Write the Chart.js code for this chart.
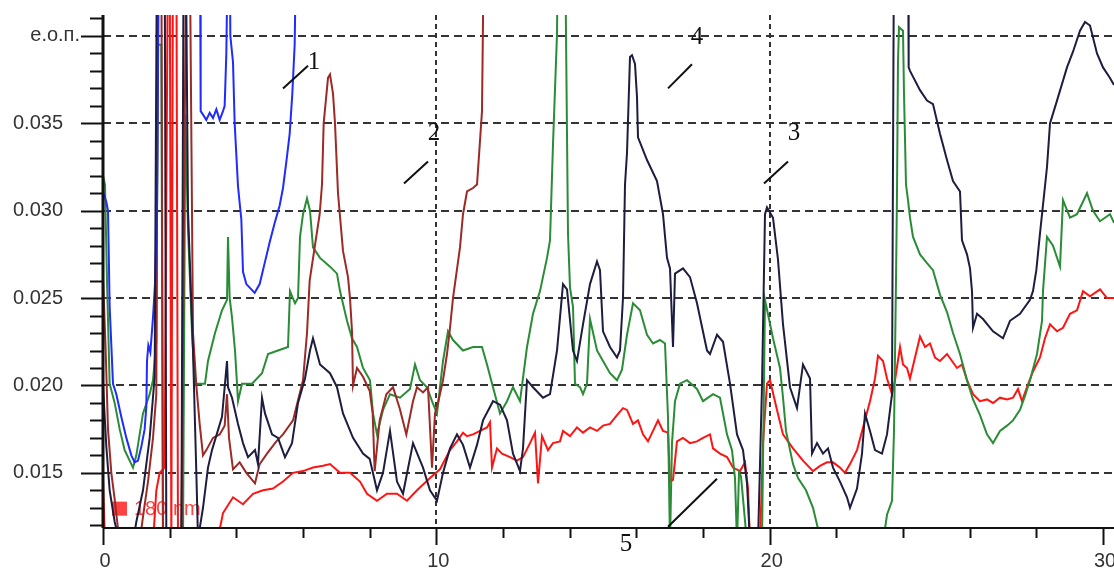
<!DOCTYPE html>
<html>
<head>
<meta charset="utf-8">
<script src="https://cdn.jsdelivr.net/npm/chart.js@4"></script>
<style>
  html, body { margin: 0; padding: 0; background: #fff; }
  canvas { display: block; }
</style>
</head>
<body>
<canvas id="c" width="1114" height="569"></canvas>
<script>
// Spectra: x in arbitrary units (0..30), y in e.o.п.
// Values above the frame are stored as 0.046, below it as 0.0110.
const HIGH = 0.046, LOW = 0.0110;

const navyPts = [[0,0.0200],[0.1,0.0165],[0.2,0.0140],[0.35,0.0122],[0.5,0.0110],[0.9,0.0110],[1.0,0.0122],[1.2,0.0140],[1.4,0.0170],[1.55,0.0205],[1.62,HIGH],[1.85,HIGH],[1.9,LOW],[2.35,LOW],[2.42,HIGH],[2.48,HIGH],[2.55,0.0300],[2.7,0.0220],[2.8,0.0150],[2.85,0.0112],[3.0,0.0130],[3.15,0.0153],[3.27,0.0163],[3.57,0.0182],[3.72,0.0214],[3.75,0.0199],[3.87,0.0193],[4.05,0.0178],[4.2,0.0167],[4.35,0.0159],[4.56,0.0163],[4.65,0.0155],[4.77,0.0193],[4.86,0.0184],[5.07,0.0172],[5.25,0.0170],[5.46,0.0159],[5.67,0.0167],[5.85,0.0190],[6.06,0.0204],[6.21,0.0220],[6.3,0.0227],[6.51,0.0212],[6.81,0.0207],[7.02,0.0199],[7.2,0.0184],[7.5,0.0170],[7.8,0.0161],[8.0,0.0158],[8.22,0.0140],[8.4,0.0150],[8.61,0.0174],[8.82,0.0145],[9.0,0.0138],[9.3,0.0167],[9.6,0.0153],[9.81,0.0140],[10.02,0.0134],[10.2,0.0150],[10.41,0.0164],[10.62,0.0172],[10.8,0.0166],[11.01,0.0153],[11.22,0.0166],[11.4,0.0180],[11.7,0.0191],[11.91,0.0189],[12.12,0.0180],[12.3,0.0161],[12.51,0.0151],[12.6,0.0164],[12.72,0.0203],[12.9,0.0199],[13.2,0.0193],[13.41,0.0195],[13.62,0.0220],[13.8,0.0258],[13.92,0.0255],[14.1,0.0220],[14.22,0.0214],[14.4,0.0235],[14.61,0.0258],[14.82,0.0271],[14.91,0.0266],[15.0,0.0231],[15.21,0.0222],[15.42,0.0216],[15.51,0.0220],[15.6,0.0250],[15.66,0.0315],[15.72,0.0333],[15.81,0.0388],[15.87,0.0389],[15.96,0.0384],[16.02,0.0365],[16.05,0.0342],[16.32,0.0329],[16.62,0.0317],[16.8,0.0298],[16.92,0.0273],[17.01,0.0267],[17.1,0.0222],[17.16,0.0264],[17.4,0.0267],[17.61,0.0262],[17.82,0.0247],[18.12,0.0220],[18.21,0.0218],[18.42,0.0229],[18.6,0.0225],[18.81,0.0201],[19.02,0.0172],[19.2,0.0163],[19.32,0.0144],[19.41,LOW],[19.65,LOW],[19.77,0.0200],[19.86,0.0298],[19.92,0.0302],[20.1,0.0296],[20.25,0.0272],[20.4,0.0235],[20.61,0.0199],[20.82,0.0187],[21.0,0.0212],[21.21,0.0204],[21.27,0.0161],[21.42,0.0167],[21.6,0.0161],[21.75,0.0164],[21.9,0.0153],[22.11,0.0145],[22.32,0.0136],[22.41,0.0130],[22.62,0.0141],[22.77,0.0161],[22.86,0.0184],[23.01,0.0174],[23.16,0.0163],[23.37,0.0161],[23.52,0.0172],[23.67,0.0195],[23.73,HIGH],[24.15,HIGH],[24.17,0.0382],[24.21,0.0380],[24.51,0.0369],[24.72,0.0363],[24.9,0.0361],[25.11,0.0344],[25.32,0.0329],[25.5,0.0317],[25.71,0.0311],[25.77,0.0283],[25.92,0.0275],[26.01,0.0267],[26.07,0.0254],[26.1,0.0233],[26.22,0.0241],[26.4,0.0238],[26.7,0.0231],[27.0,0.0227],[27.21,0.0237],[27.51,0.0241],[27.81,0.0249],[27.9,0.0254],[28.0,0.0266],[28.11,0.0287],[28.32,0.0325],[28.41,0.0350],[28.62,0.0363],[28.92,0.0382],[29.1,0.0391],[29.31,0.0403],[29.46,0.0408],[29.61,0.0406],[29.82,0.0390],[30.0,0.0382],[30.21,0.0376],[30.33,0.0372]];

const bluePts = [[0,0.0311],[0.1,0.0305],[0.15,0.0300],[0.2,0.0245],[0.3,0.0201],[0.4,0.0195],[0.55,0.0182],[0.7,0.0170],[0.85,0.0160],[0.95,0.0156],[1.05,0.0157],[1.15,0.0165],[1.25,0.0175],[1.3,0.0188],[1.32,0.0214],[1.36,0.0223],[1.42,0.0219],[1.5,0.0239],[1.56,0.0258],[1.62,0.0300],[1.68,HIGH],[2.91,HIGH],[2.93,0.0357],[3.0,0.0355],[3.1,0.0352],[3.2,0.0356],[3.3,0.0353],[3.4,0.0358],[3.5,0.0352],[3.6,0.0357],[3.65,0.0360],[3.7,0.0390],[3.75,HIGH],[3.8,HIGH],[3.82,0.0400],[3.9,0.0385],[3.95,0.0350],[4.05,0.0314],[4.15,0.0295],[4.2,0.0265],[4.3,0.0258],[4.45,0.0255],[4.55,0.0253],[4.7,0.0258],[4.85,0.0270],[5.0,0.0282],[5.15,0.0293],[5.3,0.0303],[5.4,0.0313],[5.5,0.0328],[5.6,0.0344],[5.68,0.0367],[5.75,0.0395],[5.8,HIGH]];

const brownPts = [[0,0.0262],[0.08,0.0220],[0.15,0.0175],[0.25,0.0150],[0.35,0.0135],[0.45,0.0118],[0.6,LOW],[1.1,LOW],[1.2,0.0125],[1.35,0.0145],[1.5,0.0170],[1.6,0.0195],[1.65,HIGH],[1.75,HIGH],[1.8,LOW],[2.35,LOW],[2.5,HIGH],[2.6,HIGH],[2.7,0.0230],[2.8,0.0200],[2.9,0.0178],[3.0,0.0160],[3.1,0.0163],[3.3,0.0170],[3.5,0.0172],[3.65,0.0177],[3.72,0.0195],[3.78,0.0170],[3.9,0.0152],[4.1,0.0156],[4.3,0.0150],[4.56,0.0144],[4.7,0.0155],[4.92,0.0161],[5.2,0.0168],[5.4,0.0172],[5.7,0.0180],[6.0,0.0203],[6.12,0.0230],[6.2,0.0260],[6.5,0.0298],[6.57,0.0315],[6.62,0.0350],[6.75,0.0376],[6.81,0.0378],[6.9,0.0367],[6.96,0.0350],[7.05,0.0310],[7.2,0.0277],[7.35,0.0262],[7.41,0.0250],[7.47,0.0231],[7.5,0.0200],[7.62,0.0210],[7.8,0.0205],[8.0,0.0197],[8.09,0.0184],[8.15,0.0151],[8.3,0.0180],[8.5,0.0195],[8.7,0.0199],[8.9,0.0187],[9.1,0.0172],[9.3,0.0191],[9.42,0.0199],[9.6,0.0196],[9.75,0.0199],[9.87,0.0153],[9.96,0.0184],[10.05,0.0190],[10.2,0.0203],[10.32,0.0218],[10.41,0.0233],[10.5,0.0250],[10.71,0.0279],[10.8,0.0298],[10.92,0.0311],[11.1,0.0313],[11.22,0.0315],[11.31,0.0340],[11.37,0.0357],[11.43,HIGH]];

const greenPts = [[0,0.0320],[0.06,0.0315],[0.12,0.0260],[0.2,0.0201],[0.35,0.0190],[0.5,0.0175],[0.65,0.0163],[0.8,0.0157],[0.9,0.0153],[1.0,0.0160],[1.2,0.0184],[1.4,0.0195],[1.5,0.0203],[1.6,0.0225],[1.65,0.0395],[1.75,0.0395],[1.8,LOW],[2.4,LOW],[2.47,0.0355],[2.55,0.0290],[2.67,0.0230],[2.76,0.0201],[3.06,0.0201],[3.15,0.0214],[3.36,0.0230],[3.57,0.0243],[3.72,0.0249],[3.75,0.0285],[3.8,0.0250],[3.87,0.0239],[3.96,0.0220],[4.02,0.0201],[4.05,0.0191],[4.17,0.0201],[4.47,0.0201],[4.77,0.0207],[4.95,0.0218],[5.25,0.0220],[5.55,0.0222],[5.61,0.0254],[5.76,0.0247],[5.85,0.0250],[5.91,0.0285],[6.0,0.0298],[6.12,0.0307],[6.21,0.0300],[6.3,0.0279],[6.51,0.0273],[6.81,0.0268],[7.02,0.0264],[7.11,0.0254],[7.32,0.0237],[7.47,0.0227],[7.62,0.0222],[7.8,0.0210],[8.01,0.0203],[8.1,0.0184],[8.22,0.0172],[8.4,0.0186],[8.61,0.0195],[8.91,0.0193],[9.21,0.0198],[9.36,0.0212],[9.51,0.0203],[9.72,0.0199],[9.87,0.0191],[10.02,0.0184],[10.11,0.0199],[10.2,0.0214],[10.35,0.0231],[10.5,0.0226],[10.8,0.0220],[11.1,0.0222],[11.37,0.0222],[11.52,0.0212],[11.7,0.0199],[11.91,0.0184],[12.12,0.0191],[12.3,0.0199],[12.51,0.0191],[12.72,0.0222],[12.9,0.0241],[13.11,0.0254],[13.32,0.0273],[13.41,0.0283],[13.5,0.0338],[13.62,0.0401],[13.65,HIGH],[13.86,HIGH],[13.92,0.0344],[13.95,0.0287],[14.01,0.0256],[14.1,0.0245],[14.16,0.0201],[14.31,0.0199],[14.4,0.0195],[14.52,0.0201],[14.61,0.0238],[14.82,0.0220],[15.0,0.0214],[15.21,0.0207],[15.42,0.0203],[15.57,0.0209],[15.72,0.0229],[15.9,0.0247],[16.11,0.0243],[16.32,0.0229],[16.5,0.0224],[16.71,0.0226],[16.86,0.0224],[16.95,0.0182],[17.01,LOW],[17.07,0.0167],[17.16,0.0191],[17.31,0.0201],[17.52,0.0203],[17.82,0.0198],[18.0,0.0191],[18.3,0.0195],[18.51,0.0193],[18.72,0.0172],[18.87,0.0163],[18.96,0.0147],[19.02,LOW],[19.08,0.0150],[19.14,0.0148],[19.32,LOW],[19.77,LOW],[19.86,0.0249],[20.1,0.0227],[20.31,0.0210],[20.4,0.0193],[20.49,0.0174],[20.7,0.0155],[20.85,0.0147],[21.09,0.0140],[21.3,0.0130],[21.45,0.0118],[21.6,LOW],[23.4,LOW],[23.52,0.0126],[23.67,0.0134],[23.73,0.0174],[23.79,0.0260],[23.82,0.0310],[23.85,0.0386],[23.88,0.0405],[24.0,0.0403],[24.03,0.0367],[24.09,0.0315],[24.15,0.0306],[24.21,0.0296],[24.3,0.0285],[24.51,0.0275],[24.72,0.0270],[24.9,0.0266],[25.11,0.0252],[25.32,0.0242],[25.5,0.0230],[25.71,0.0218],[25.92,0.0203],[26.1,0.0192],[26.31,0.0183],[26.52,0.0172],[26.7,0.0167],[26.91,0.0174],[27.12,0.0177],[27.3,0.0180],[27.51,0.0186],[27.66,0.0194],[27.81,0.0203],[28.02,0.0218],[28.17,0.0237],[28.2,0.0254],[28.32,0.0285],[28.5,0.0280],[28.71,0.0268],[28.8,0.0306],[29.01,0.0296],[29.22,0.0298],[29.52,0.0310],[29.7,0.0300],[29.91,0.0294],[30.21,0.0298],[30.33,0.0293]];

const redPts = [[0,0.0146],[0.06,LOW],[1.5,LOW],[1.6,0.0140],[1.7,0.0150],[1.85,0.0153],[1.95,HIGH],[2.0,HIGH],[2.05,LOW],[2.1,HIGH],[2.2,HIGH],[2.25,LOW],[3.42,LOW],[3.6,0.0127],[3.9,0.0136],[4.2,0.0132],[4.5,0.0138],[4.8,0.0140],[5.1,0.0141],[5.4,0.0145],[5.7,0.0150],[6.0,0.0151],[6.3,0.0153],[6.6,0.0154],[6.81,0.0155],[7.11,0.0150],[7.41,0.0150],[7.71,0.0145],[7.92,0.0138],[8.22,0.0134],[8.52,0.0138],[8.82,0.0138],[9.12,0.0134],[9.42,0.0140],[9.81,0.0147],[10.11,0.0152],[10.41,0.0163],[10.62,0.0168],[10.8,0.0173],[10.92,0.0171],[11.1,0.0172],[11.31,0.0174],[11.52,0.0176],[11.61,0.0179],[11.67,0.0153],[11.82,0.0164],[11.97,0.0161],[12.21,0.0159],[12.42,0.0157],[12.6,0.0159],[12.81,0.0167],[12.96,0.0173],[13.05,0.0144],[13.17,0.0171],[13.35,0.0163],[13.5,0.0167],[13.71,0.0168],[13.8,0.0174],[14.01,0.0171],[14.22,0.0176],[14.4,0.0173],[14.61,0.0176],[14.82,0.0174],[15.0,0.0177],[15.21,0.0178],[15.42,0.0183],[15.6,0.0187],[15.72,0.0186],[15.9,0.0178],[16.05,0.0180],[16.2,0.0172],[16.35,0.0168],[16.5,0.0174],[16.65,0.0180],[16.8,0.0174],[16.95,0.0173],[17.01,0.0145],[17.1,0.0146],[17.22,0.0168],[17.4,0.0170],[17.61,0.0167],[17.82,0.0168],[18.0,0.0170],[18.21,0.0172],[18.3,0.0164],[18.51,0.0161],[18.72,0.0159],[18.9,0.0153],[19.11,0.0151],[19.26,0.0156],[19.35,0.0141],[19.41,LOW],[19.71,LOW],[19.8,0.0167],[19.92,0.0201],[20.01,0.0203],[20.22,0.0186],[20.4,0.0172],[20.7,0.0164],[21.0,0.0157],[21.3,0.0151],[21.51,0.0154],[21.72,0.0156],[21.9,0.0156],[22.11,0.0153],[22.26,0.0150],[22.41,0.0155],[22.62,0.0163],[22.8,0.0176],[23.01,0.0191],[23.16,0.0204],[23.25,0.0217],[23.4,0.0214],[23.52,0.0204],[23.67,0.0195],[23.76,0.0203],[23.91,0.0222],[24.0,0.0212],[24.12,0.0210],[24.21,0.0204],[24.36,0.0216],[24.51,0.0228],[24.66,0.0222],[24.81,0.0224],[24.96,0.0216],[25.11,0.0214],[25.32,0.0218],[25.47,0.0214],[25.62,0.0210],[25.77,0.0212],[25.92,0.0203],[26.1,0.0195],[26.31,0.0191],[26.52,0.0192],[26.7,0.0190],[26.91,0.0193],[27.12,0.0192],[27.3,0.0193],[27.45,0.0198],[27.57,0.0191],[27.72,0.0199],[27.9,0.0208],[28.11,0.0216],[28.26,0.0227],[28.41,0.0235],[28.62,0.0231],[28.8,0.0233],[29.01,0.0241],[29.22,0.0243],[29.4,0.0254],[29.61,0.0251],[29.91,0.0255],[30.12,0.0250],[30.33,0.0250]];

// axis ranges and labels
const X_MIN = 0, X_MAX = 30.33;
const Y_MIN = 0.0119, Y_MAX = 0.0412;
const xTickLabels = [0, 10, 20, 30];
const yTickLabels = [[0.015, '0.015'], [0.020, '0.020'], [0.025, '0.025'], [0.030, '0.030'], [0.035, '0.035'], [0.040, 'e.o.п.']];

// curve numbers with short leader strokes, in data units
const curveTags = [
  { text: '1', x: 6.33, y: 0.0385, from: [5.40, 0.0370], to: [6.15, 0.0383] },
  { text: '2', x: 9.93, y: 0.0344, from: [9.03, 0.03156], to: [9.75, 0.03282] },
  { text: '3', x: 20.73, y: 0.0344, from: [19.83, 0.03156], to: [20.55, 0.03282] },
  { text: '4', x: 17.82, y: 0.0399, from: [16.95, 0.0370], to: [17.67, 0.03838] },
  { text: '5', x: 15.69, y: 0.01093, from: [16.95, 0.01191], to: [18.42, 0.01466] }
];

const toXY = pts => pts.map(p => ({ x: p[0], y: p[1] }));
const isMult = (v, s) => Math.abs(v / s - Math.round(v / s)) < 1e-6;

const series = [
  { data: navyPts, color: '#1d1d3f' },
  { data: bluePts, color: '#1f2bff' },
  { data: brownPts, color: '#9c2a26' },
  { data: greenPts, color: '#2a8c36' },
  { data: redPts, color: '#ff1414' }
];

const frameDecor = {
  id: 'frameDecor',
  beforeDatasetsDraw(chart) {
    const { ctx, chartArea: a, scales: { y } } = chart;
    // faded legend entry at the lower left
    const py = y.getPixelForValue(0.01295);
    ctx.save();
    ctx.globalAlpha = 0.85;
    ctx.fillStyle = '#ff2020';
    ctx.fillRect(a.left + 9, py - 7, 15, 14);
    ctx.font = '20px "Liberation Sans", Arial, sans-serif';
    ctx.textBaseline = 'middle';
    ctx.textAlign = 'left';
    ctx.fillText('180 nm', a.left + 31, py + 1);
    ctx.restore();
  },
  afterDraw(chart) {
    const { ctx, chartArea: a, scales: { x, y } } = chart;
    ctx.save();
    ctx.strokeStyle = '#111';
    // axis lines
    ctx.lineWidth = 3;
    ctx.beginPath();
    ctx.moveTo(a.left, a.top);
    ctx.lineTo(a.left, a.bottom + 1);
    ctx.stroke();
    ctx.lineWidth = 2;
    ctx.beginPath();
    ctx.moveTo(a.left, a.bottom + 1);
    ctx.lineTo(a.right, a.bottom + 1);
    ctx.stroke();
    // y tick marks, every 0.001 with longer ones every 0.005
    ctx.lineWidth = 2;
    for (let k = 12; k <= 41; k++) {
      const v = k / 1000;
      const p = Math.round(y.getPixelForValue(v)) + 0.5;
      const len = k % 5 === 0 ? 22 : 13;
      ctx.beginPath();
      ctx.moveTo(a.left - len, p);
      ctx.lineTo(a.left, p);
      ctx.stroke();
    }
    // x tick marks every 2 units
    for (let v = 0; v <= 30; v += 2) {
      const p = Math.round(x.getPixelForValue(v)) + 0.5;
      const len = v % 10 === 0 ? 17 : 10;
      ctx.beginPath();
      ctx.moveTo(p, a.bottom + 1);
      ctx.lineTo(p, a.bottom + 1 + len);
      ctx.stroke();
    }
    // tick labels
    ctx.fillStyle = '#333';
    ctx.font = '20px "Liberation Sans", Arial, sans-serif';
    ctx.textBaseline = 'middle';
    ctx.textAlign = 'right';
    yTickLabels.forEach(([v, t]) => {
      const p = y.getPixelForValue(v);
      const right = t === 'e.o.п.' ? a.left - 23 : a.left - 40;
      ctx.fillText(t, right, p);
    });
    ctx.textAlign = 'center';
    ctx.textBaseline = 'top';
    xTickLabels.forEach(v => {
      ctx.fillText(String(v), x.getPixelForValue(v) + 2, a.bottom + 24);
    });
    // curve numbers
    ctx.fillStyle = '#111';
    ctx.strokeStyle = '#111';
    ctx.lineWidth = 2;
    ctx.font = '25px "Liberation Serif", "Times New Roman", serif';
    ctx.textBaseline = 'middle';
    curveTags.forEach(t => {
      ctx.fillText(t.text, x.getPixelForValue(t.x), y.getPixelForValue(t.y));
      ctx.beginPath();
      ctx.moveTo(x.getPixelForValue(t.from[0]), y.getPixelForValue(t.from[1]));
      ctx.lineTo(x.getPixelForValue(t.to[0]), y.getPixelForValue(t.to[1]));
      ctx.stroke();
    });
    ctx.restore();
  }
};

new Chart(document.getElementById('c'), {
  type: 'line',
  data: {
    datasets: series.map(s => ({
      data: toXY(s.data),
      borderColor: s.color,
      borderWidth: 2,
      pointRadius: 0,
      tension: 0,
      fill: false
    }))
  },
  options: {
    responsive: false,
    animation: false,
    events: [],
    layout: { padding: { left: 103, top: 15, right: 0, bottom: 42 } },
    plugins: { legend: { display: false }, tooltip: { enabled: false } },
    scales: {
      x: {
        type: 'linear', min: X_MIN, max: X_MAX,
        ticks: { display: false, stepSize: 10 },
        grid: {
          drawTicks: false, lineWidth: 2,
          color: c => (c.tick && c.tick.value > 0 && c.tick.value <= 30 && isMult(c.tick.value, 10)) ? '#333' : 'rgba(0,0,0,0)'
        },
        border: { display: false, dash: [5, 4] },
        afterFit(s) { s.height = 0; }
      },
      y: {
        type: 'linear', min: Y_MIN, max: Y_MAX,
        ticks: { display: false, stepSize: 0.005 },
        grid: {
          drawTicks: false, lineWidth: 2,
          color: c => (c.tick && c.tick.value > 0.0145 && c.tick.value < 0.0405 && isMult(c.tick.value, 0.005)) ? '#333' : 'rgba(0,0,0,0)'
        },
        border: { display: false, dash: [8, 5] },
        afterFit(s) { s.width = 0; }
      }
    }
  },
  plugins: [frameDecor]
});
</script>
</body>
</html>
